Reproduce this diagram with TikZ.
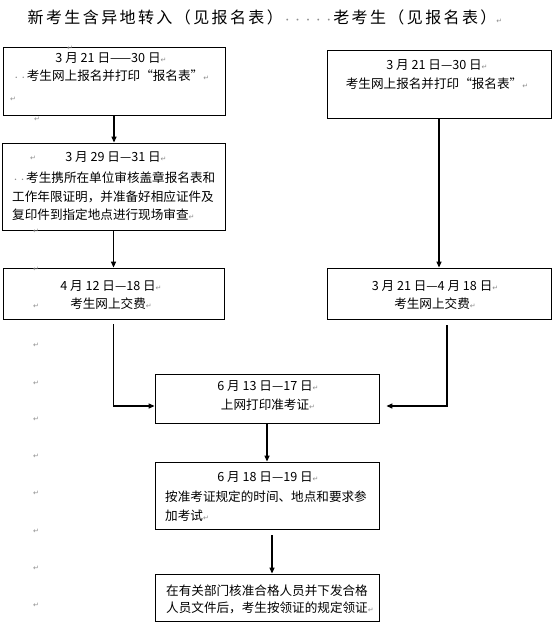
\documentclass[tikz,border=0pt]{standalone}
\usepackage{fontspec}
\setmainfont{Noto Sans CJK SC}
\newfontfamily\retfont{DejaVu Sans}
\newfontfamily\titlefont[LetterSpace=15]{Noto Sans CJK SC}
\usetikzlibrary{positioning, arrows.meta}
\definecolor{retgray}{gray}{0.55}
\newcommand{\ret}{{\retfont\fontsize{7}{7}\selectfont\textcolor{retgray}{↵}}}
\newcommand{\spc}{{\fontsize{7}{7}\selectfont\textcolor{retgray}{··}}}

\begin{document}
\begin{tikzpicture}[x=1pt, y=1pt, >={Triangle[length=6pt, width=5pt]},
  box/.style={draw, line width=0.8pt, inner sep=0pt},
  txt/.style={inner sep=0pt, font=\fontsize{12.6}{18.5}\selectfont},
  flow/.style={->, line width=1.2pt},
  retmark/.style={inner sep=0pt, font=\retfont\fontsize{7}{7}\selectfont, text=retgray}]
  \useasboundingbox (0,0) rectangle (557,-628);

  % title
  \node[inner sep=0pt, font=\titlefont\fontsize{16}{16}\selectfont] (title) at (265,-17)
    {新考生含异地转入（见报名表）{\fontsize{9}{9}\selectfont\textcolor{retgray}{·····}}老考生（见报名表）\ret};

  % boxes
  \node[box, minimum width=222pt, minimum height=68pt] (A) at (114,-81) {};
  \node[box, minimum width=223pt, minimum height=87pt] (B) at (113.5,-186.5) {};
  \node[box, minimum width=221pt, minimum height=51pt] (C) at (113.5,-293.5) {};
  \node[box, minimum width=224pt, minimum height=68pt] (D) at (439,-84) {};
  \node[box, minimum width=224pt, minimum height=51pt] (E) at (439,-293.5) {};
  \node[box, minimum width=224pt, minimum height=49pt] (F) at (267,-398.5) {};
  \node[box, minimum width=224pt, minimum height=67pt] (G) at (267,-495.5) {};
  \node[box, minimum width=224pt, minimum height=47pt] (H) at (267,-597.5) {};

  % box texts
  \node[txt, align=center, anchor=north] (Atext) at (111,-52)
    {3 月 21 日——30 日\ret\\\spc 考生网上报名并打印“报名表”\ret};
  \node[txt, anchor=north] (Bdate) at (116,-151.8) {3 月 29 日—31 日\ret};
  \node[txt, align=left, anchor=north west] (Bbody) at (12,-171.8)
    {\spc 考生携所在单位审核盖章报名表和\\工作年限证明，并准备好相应证件及\\复印件到指定地点进行现场审查\ret};
  \node[txt, align=center, anchor=north] (Ctext) at (111,-280.3)
    {4 月 12 日—18 日\ret\\考生网上交费\ret};
  \node[txt, align=center, anchor=north] (Dtext) at (437,-59.8)
    {3 月 21 日—30 日\ret\\考生网上报名并打印“报名表”\ret};
  \node[txt, align=center, anchor=north] (Etext) at (435,-280.3)
    {3 月 21 日—4 月 18 日\ret\\考生网上交费\ret};
  \node[txt, align=center, anchor=north] (Ftext) at (268,-380.8)
    {6 月 13 日—17 日\ret\\上网打印准考证\ret};
  \node[txt, anchor=north] (Gdate) at (268,-471.8) {6 月 18 日—19 日\ret};
  \node[txt, align=left, anchor=north west] (Gbody) at (165,-490.8)
    {按准考证规定的时间、地点和要求参\\加考试\ret};
  \node[txt, align=left, anchor=north west, font=\fontsize{12.6}{17}\selectfont] (Htext) at (166,-585)
    {在有关部门核准合格人员并下发合格\\人员文件后，考生按领证的规定领证\ret};

  % stray paragraph marks
  \foreach \mx/\my [count=\i] in {70/48.5, 13/99, 37/119, 33/158, 36/231, 36/269, 36/306,
      36/345, 36/383, 36/419, 36/456, 36/493, 36/531, 36/568, 36/605}
    \node[retmark] (mark\i) at (\mx,-\my) {↵};

  % connectors
  \draw[flow] (A.south) -- (A.south |- B.north);
  \draw[flow] (B.south) -- (B.south |- C.north);
  \draw[flow] (D.south) -- (E.north);
  \draw[flow] ([yshift=-5pt]C.south) |- ([yshift=-7.5pt]F.west);
  \draw[flow] ([xshift=8pt, yshift=-6pt]E.south) |- ([xshift=7pt, yshift=-7.5pt]F.east);
  \draw[flow] (F.south) -- (G.north);
  \draw[flow] ([xshift=5pt, yshift=-6pt]G.south) -- ([xshift=5pt]H.north);
\end{tikzpicture}
\end{document}
